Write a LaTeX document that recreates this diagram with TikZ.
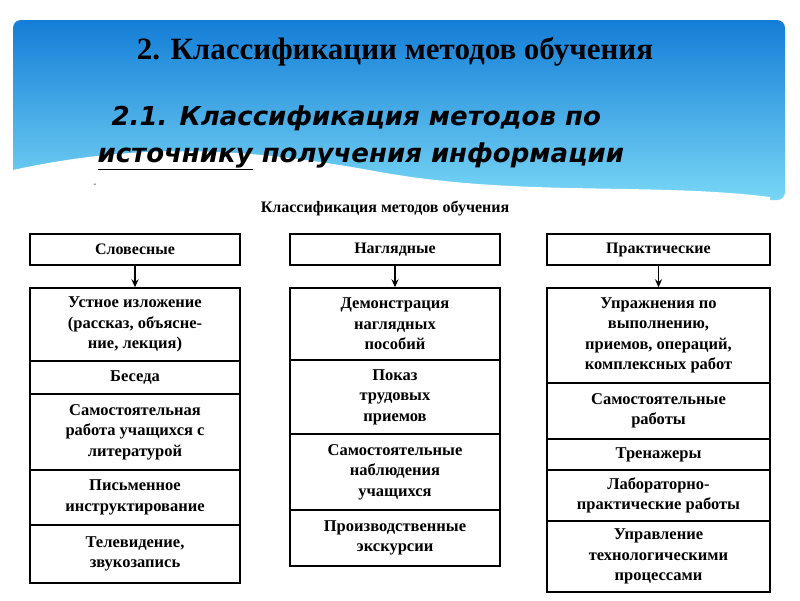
\documentclass[tikz,border=0pt]{standalone}
\usepackage{fontspec}
\setmainfont{Liberation Serif}
\newfontfamily\subfont{DejaVu Sans}
\usetikzlibrary{arrows.meta,positioning}
\definecolor{skytop}{RGB}{20,125,215}
\definecolor{skybot}{RGB}{120,215,245}
\tikzset{
  headbox/.style={draw,line width=1.4pt,minimum height=31pt,font=\bfseries\fontsize{16}{17}\selectfont},
  itembox/.style={draw,line width=1.4pt,align=center,font=\bfseries\fontsize{16.5}{20.5}\selectfont},
  downarrow/.style={-{Stealth[length=8pt,width=7pt]},line width=1.6pt}
}
\begin{document}
\begin{tikzpicture}[x=1pt,y=-1pt]
\useasboundingbox (0,0) rectangle (800,600);
\fill[white] (0,0) rectangle (800,600);
% blue header with wave
\shade[top color=skytop,bottom color=skybot,rounded corners=8pt]
  (13,20) rectangle (785,200);
\fill[white] (13,170) .. controls (150,140) and (260,150) .. (380,172)
  .. controls (520,197) and (650,182) .. (770,197) -- (770,201) -- (13,201) -- cycle;
\node (title) at (395,52) {\bfseries\fontsize{31}{34}\selectfont 2. Классификации методов обучения};
\node[anchor=west] (sub1) at (108,118) {\subfont\bfseries\itshape\fontsize{26}{29}\selectfont 2.1. Классификация методов по};
\node[anchor=west] (sub2) at (94,156) {\subfont\bfseries\itshape\fontsize{26}{29}\selectfont \underline{источнику} получения информации};
\node (dash) at (95,185) {\fontsize{8}{8}\selectfont -};
\node (cap) at (385,208) {\bfseries\fontsize{16}{17}\selectfont Классификация методов обучения};
% columns
\foreach \nm/\xa/\xb/\txt in {a/30/240/Словесные, b/290/500/Наглядные, c/547/770/Практические}
  \node[headbox,minimum width=\xb-\xa] (\nm h) at ({(\xa+\xb)/2},249.5) {\txt};
\foreach \nm/\xa/\xb/\ya/\yb/\txt in {
  a1/30/240/288/361/{Устное изложение\\(рассказ, объясне-\\ние, лекция)},
  a2/30/240/361/394/{Беседа},
  a3/30/240/394/470/{Самостоятельная\\работа учащихся с\\литературой},
  a4/30/240/470/525/{Письменное\\инструктирование},
  a5/30/240/525/583/{Телевидение,\\звукозапись},
  b1/290/500/288/360/{Демонстрация\\наглядных\\пособий},
  b2/290/500/360/434/{Показ\\трудовых\\приемов},
  b3/290/500/434/510/{Самостоятельные\\наблюдения\\учащихся},
  b4/290/500/510/566/{Производственные\\экскурсии},
  c1/547/770/288/383/{Упражнения по\\выполнению,\\приемов, операций,\\комплексных работ},
  c2/547/770/383/439/{Самостоятельные\\работы},
  c3/547/770/439/470/{Тренажеры},
  c4/547/770/470/521/{Лабораторно-\\практические работы},
  c5/547/770/521/592/{Управление\\технологическими\\процессами}}
  \node[itembox,minimum width=\xb-\xa,minimum height=\yb-\ya,inner sep=0pt] (\nm) at ({(\xa+\xb)/2},{(\ya+\yb)/2}) {\txt};
\foreach \nm in {a,b,c}
  \draw[downarrow] (\nm h) -- (\nm 1);
\end{tikzpicture}
\end{document}
